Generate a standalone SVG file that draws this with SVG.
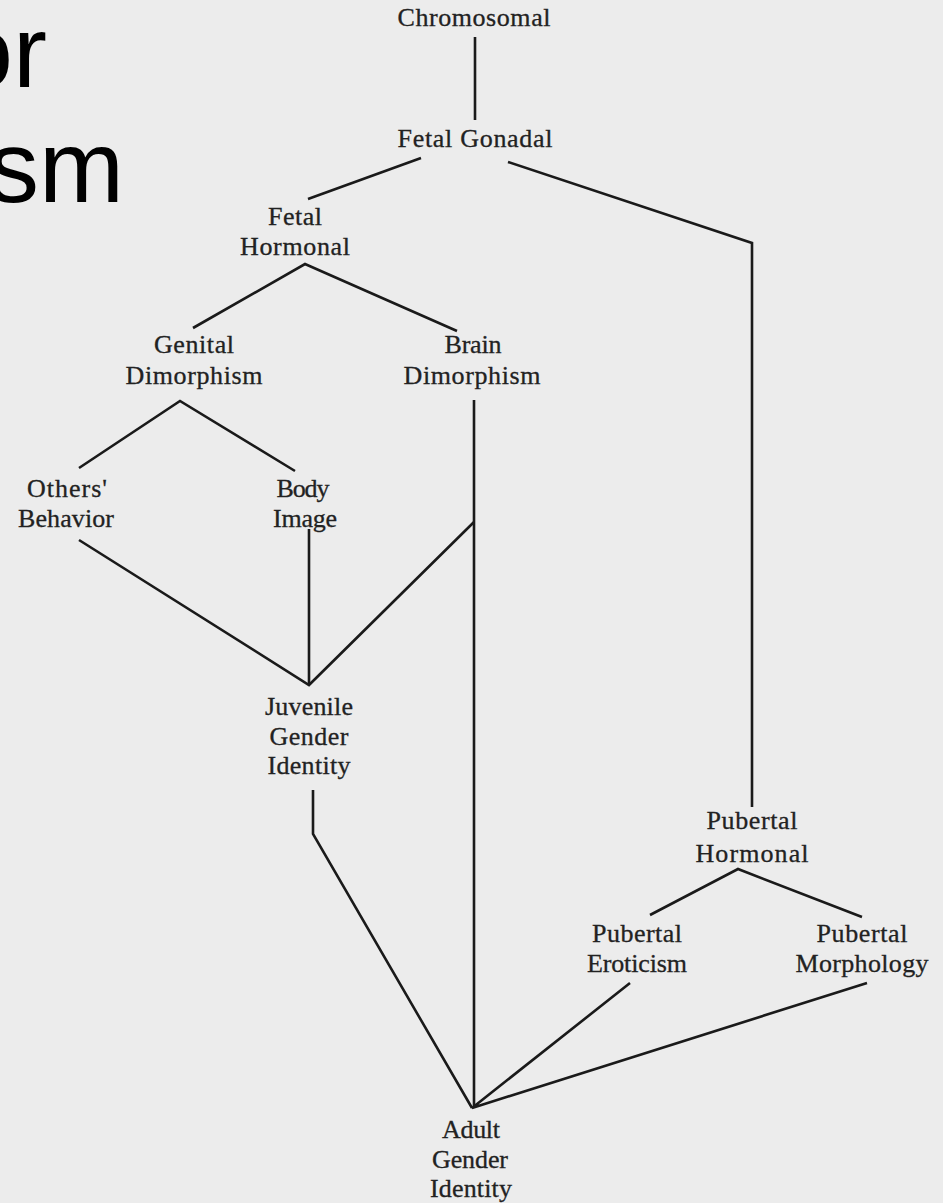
<svg xmlns="http://www.w3.org/2000/svg" width="943" height="1203" viewBox="0 0 943 1203">
<style>
.lbl{font-family:"Liberation Serif","Times New Roman",serif;font-size:26px;fill:#222;stroke:#222;stroke-width:0.3;text-anchor:middle}
.big{font-family:"Liberation Sans",Arial,sans-serif;font-size:102px;fill:#000;text-anchor:end}
.con{fill:none;stroke:#1a1a1a;stroke-width:2.6;stroke-linejoin:miter;stroke-linecap:butt}
</style>
<rect width="943" height="1203" fill="#ececec"/>
<g id="title">
<text class="big" x="47" y="87">or</text>
<text class="big" x="124" y="202">sm</text>
</g>
<g id="connectors">
<path class="con" d="M475 37 V120"/>
<path class="con" d="M421 158 L308 199"/>
<path class="con" d="M508 162 L752 243 V807"/>
<path class="con" d="M193 328 L305 264 L457 331"/>
<path class="con" d="M79 468 L180 401 L295 471"/>
<path class="con" d="M79 540 L309 685 L474 522"/>
<path class="con" d="M309 529 V685"/>
<path class="con" d="M474 400 V1108"/>
<path class="con" d="M313 790 V834 L472 1108"/>
<path class="con" d="M650 915 L738 869 L862 917"/>
<path class="con" d="M630 983 L472 1108 L867 983"/>
</g>
<g id="chromosomal"><text class="lbl" x="474" y="26" textLength="153" lengthAdjust="spacing">Chromosomal</text></g>
<g id="fetal-gonadal"><text class="lbl" x="475" y="147" textLength="155" lengthAdjust="spacing">Fetal Gonadal</text></g>
<g id="fetal-hormonal">
<text class="lbl" x="295" y="225" textLength="54" lengthAdjust="spacing">Fetal</text>
<text class="lbl" x="295" y="255" textLength="110" lengthAdjust="spacing">Hormonal</text>
</g>
<g id="genital-dimorphism">
<text class="lbl" x="194" y="353" textLength="80" lengthAdjust="spacing">Genital</text>
<text class="lbl" x="194" y="384" textLength="137" lengthAdjust="spacing">Dimorphism</text>
</g>
<g id="brain-dimorphism">
<text class="lbl" x="473" y="353" textLength="57" lengthAdjust="spacing">Brain</text>
<text class="lbl" x="472" y="384" textLength="137" lengthAdjust="spacing">Dimorphism</text>
</g>
<g id="others-behavior">
<text class="lbl" x="67" y="497" textLength="80" lengthAdjust="spacing">Others'</text>
<text class="lbl" x="66" y="527" textLength="96" lengthAdjust="spacing">Behavior</text>
</g>
<g id="body-image">
<text class="lbl" x="303" y="497" textLength="53" lengthAdjust="spacing">Body</text>
<text class="lbl" x="305" y="527" textLength="64" lengthAdjust="spacing">Image</text>
</g>
<g id="juvenile-gender-identity">
<text class="lbl" x="309" y="715" textLength="88" lengthAdjust="spacing">Juvenile</text>
<text class="lbl" x="309" y="745" textLength="79" lengthAdjust="spacing">Gender</text>
<text class="lbl" x="309" y="774" textLength="83" lengthAdjust="spacing">Identity</text>
</g>
<g id="pubertal-hormonal">
<text class="lbl" x="752" y="829" textLength="91" lengthAdjust="spacing">Pubertal</text>
<text class="lbl" x="752" y="862" textLength="113" lengthAdjust="spacing">Hormonal</text>
</g>
<g id="pubertal-eroticism">
<text class="lbl" x="637" y="942" textLength="90" lengthAdjust="spacing">Pubertal</text>
<text class="lbl" x="637" y="972" textLength="100" lengthAdjust="spacing">Eroticism</text>
</g>
<g id="pubertal-morphology">
<text class="lbl" x="862" y="942" textLength="91" lengthAdjust="spacing">Pubertal</text>
<text class="lbl" x="862" y="972" textLength="133" lengthAdjust="spacing">Morphology</text>
</g>
<g id="adult-gender-identity">
<text class="lbl" x="471" y="1138" textLength="58" lengthAdjust="spacing">Adult</text>
<text class="lbl" x="470" y="1168" textLength="76" lengthAdjust="spacing">Gender</text>
<text class="lbl" x="471" y="1197" textLength="82" lengthAdjust="spacing">Identity</text>
</g>
</svg>
